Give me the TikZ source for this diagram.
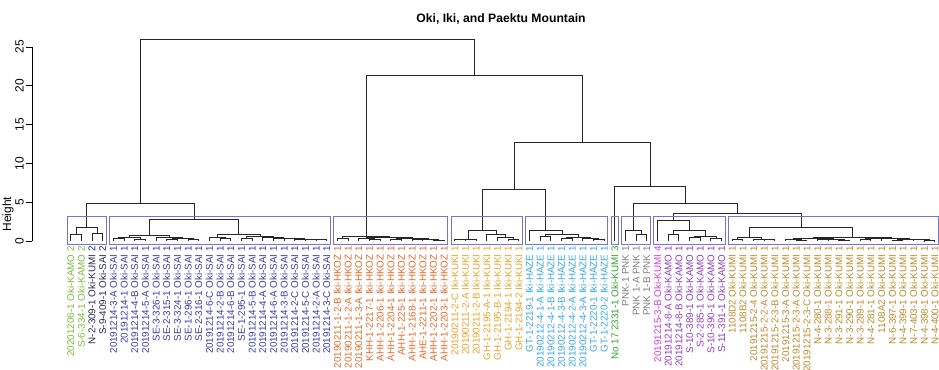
\documentclass[tikz,border=0pt]{standalone}
\usepackage{fontspec}
\setmainfont{Liberation Sans}
\makeatletter
\newcommand\setnd[3]{\expandafter\xdef\csname ndx@#1\endcsname{#2}\expandafter\xdef\csname ndh@#1\endcsname{#3}}
\newcommand\ndx[1]{\csname ndx@#1\endcsname}
\newcommand\ndh[1]{\csname ndh@#1\endcsname}
\makeatother
\newcommand\mg[4]{%
  \pgfmathsetmacro\mgx{(\ndx{#2}+\ndx{#3})/2}%
  \setnd{#1}{\mgx}{#4}%
  \draw[tree] ({59.96+10.67*\ndx{#2}},{241-7.76*\ndh{#2}}) -- ({59.96+10.67*\ndx{#2}},{241-7.76*#4}) -- ({59.96+10.67*\ndx{#3}},{241-7.76*#4}) -- ({59.96+10.67*\ndx{#3}},{241-7.76*\ndh{#3}});%
}
\definecolor{cKAMOb}{HTML}{7CBA3C}
\definecolor{cDark}{HTML}{2A2A4E}
\definecolor{cSAI}{HTML}{3B3BA3}
\definecolor{cHKOZ}{HTML}{DD6B2A}
\definecolor{cKUKI}{HTML}{E6A328}
\definecolor{cHAZE}{HTML}{3AA7DD}
\definecolor{cNo}{HTML}{33A02C}
\definecolor{cPNK}{HTML}{7F7F7F}
\definecolor{cKUMId}{HTML}{D63BD6}
\definecolor{cKAMOa}{HTML}{8E3FB6}
\definecolor{cKUMIa}{HTML}{B98A2C}
\definecolor{cBox}{HTML}{7676C8}
\begin{document}
\begin{tikzpicture}[x=0.3mm,y=-0.3mm,
  tree/.style={draw=black!85,line width=0.26mm},
  clbox/.style={draw=cBox,line width=0.3mm},
  lbl/.style={font=\fontsize{8.4}{9}\selectfont,inner sep=0pt,anchor=east,rotate=90},
  axlbl/.style={font=\fontsize{10.2}{11}\selectfont,rotate=90,inner sep=1.5pt},
  axline/.style={draw=black,line width=0.26mm}]
\useasboundingbox (0,0) rectangle (939,370);
% title and axis
\node[font=\bfseries\fontsize{10.4}{11}\selectfont] (title) at (501,19) {Oki, Iki, and Paektu Mountain};
\node[axlbl] (ylab) at (8,214) {Height};
\draw[axline] (32,241) -- (32,47);
\foreach \v in {0,5,...,25}{
  \draw[axline] (32,{241-7.76*\v}) -- (26,{241-7.76*\v}) node[axlbl,anchor=south] (tick\v) {\v};
}
% leaves
\foreach \i in {1,...,82}{\setnd{L\i}{\i}{0}}
% group 1
\mg{a1}{L1}{L2}{0.8}
\mg{a2}{L3}{L4}{1.0}
\mg{G1}{a1}{a2}{1.8}
% group 2
\mg{p1}{L5}{L6}{0.3}
\mg{p2}{L7}{L8}{0.25}
\mg{P}{p1}{p2}{0.45}
\mg{q1}{L10}{L11}{0.15}
\mg{q2}{L12}{L13}{0.2}
\mg{q3}{q1}{q2}{0.3}
\mg{Q}{L9}{q3}{0.5}
\mg{S1}{P}{Q}{0.7}
\mg{r1}{L15}{L16}{0.3}
\mg{r2}{L14}{r1}{0.5}
\mg{r3}{L17}{L18}{0.3}
\mg{c1}{L24}{L25}{0.15}
\mg{c2}{L23}{c1}{0.2}
\mg{c3}{L22}{c2}{0.25}
\mg{c4}{L21}{c3}{0.3}
\mg{c5}{L20}{c4}{0.35}
\mg{c6}{L19}{c5}{0.4}
\mg{r4}{r3}{c6}{0.55}
\mg{S2}{r2}{r4}{0.9}
\mg{G2}{S1}{S2}{2.8}
\mg{G12}{G1}{G2}{4.9}
% HKOZ
\mg{h1}{L26}{L27}{0.3}
\mg{h2}{L29}{L30}{0.15}
\mg{h3}{L28}{h2}{0.3}
\mg{h4}{L31}{L32}{0.15}
\mg{h5}{L33}{L34}{0.2}
\mg{h6}{L35}{L36}{0.1}
\mg{h7}{h5}{h6}{0.25}
\mg{h8}{h4}{h7}{0.3}
\mg{h9}{h3}{h8}{0.45}
\mg{HK}{h1}{h9}{0.6}
% KUKI
\mg{k1}{L37}{L38}{0.15}
\mg{k2}{k1}{L39}{0.2}
\mg{k3}{L42}{L43}{0.2}
\mg{k4}{L41}{k3}{0.4}
\mg{k5}{L40}{k4}{0.8}
\mg{KU}{k2}{k5}{1.3}
% HAZE
\mg{z1}{L45}{L46}{0.6}
\mg{z2}{L47}{L48}{0.3}
\mg{z3}{L50}{L51}{0.2}
\mg{z4}{L49}{z3}{0.35}
\mg{z5}{z2}{z4}{0.5}
\mg{z6}{z1}{z5}{0.9}
\mg{HZ}{L44}{z6}{1.4}
\mg{KH}{KU}{HZ}{6.7}
% PNK
\mg{n1}{L54}{L55}{0.8}
\mg{PN}{L53}{n1}{1.3}
% KAMO
\mg{m1}{L57}{L58}{0.9}
\mg{m2}{L59}{L60}{0.5}
\mg{m3}{L61}{L62}{0.3}
\mg{m4}{m2}{m3}{0.6}
\mg{m5}{m1}{m4}{1.4}
\mg{KA}{L56}{m5}{2.7}
% KUMI 1
\mg{u1}{L63}{L64}{0.2}
\mg{u2}{L66}{L67}{0.15}
\mg{u3}{L65}{u2}{0.25}
\mg{u4}{u1}{u3}{0.4}
\mg{v1}{L69}{L70}{0.1}
\mg{v2}{L68}{v1}{0.2}
\mg{v3}{L71}{L72}{0.15}
\mg{v4}{L73}{L74}{0.1}
\mg{v5}{v3}{v4}{0.25}
\mg{VA}{v2}{v5}{0.3}
\mg{w1}{L75}{L76}{0.2}
\mg{w2}{w1}{L77}{0.3}
\mg{w3}{L78}{L79}{0.1}
\mg{w4}{L81}{L82}{0.05}
\mg{w5}{L80}{w4}{0.15}
\mg{w6}{w3}{w5}{0.2}
\mg{VB}{w2}{w6}{0.35}
\mg{V}{VA}{VB}{0.4}
\mg{KM}{u4}{V}{1.7}
% upper merges
\mg{KK}{KA}{KM}{3.5}
\mg{PKK}{PN}{KK}{4.8}
\mg{R7}{L52}{PKK}{7.0}
\mg{H12}{KH}{R7}{12.7}
\mg{HR}{HK}{H12}{21.3}
\mg{root}{G12}{HR}{26.0}
% cluster boxes
\foreach \a/\b in {0/4,4/25,25/36,36/43,43/51,51/52,52/55,55/62,62/82}{
  \draw[clbox] ({59.96+10.67*(\a+0.66)},244.5) rectangle ({59.96+10.67*(\b+0.33)},216.6);
}
% labels
\foreach \t/\c [count=\i] in {
20201206-1 Oki-KAMO 2/cKAMOb, S-6-334-1 Oki-KAMO 2/cKAMOb, N-2-309-1 Oki-KUMI 2/cDark, S-9-409-1 Oki-SAI 2/cDark,
20191214-3-A Oki-SAI 1/cSAI, 20191214-1 Oki-SAI 1/cSAI, 20191214-4-B Oki-SAI 1/cSAI, 20191214-5-A Oki-SAI 1/cSAI,
SE-3-326-1 Oki-SAI 1/cSAI, SE-2-315-1 Oki-SAI 1/cSAI, SE-3-324-1 Oki-SAI 1/cSAI, SE-1-296-1 Oki-SAI 1/cSAI,
SE-2-316-1 Oki-SAI 1/cSAI, 20191214-6-C Oki-SAI 1/cSAI, 20191214-2-B Oki-SAI 1/cSAI, 20191214-6-B Oki-SAI 1/cSAI,
SE-1-295-1 Oki-SAI 1/cSAI, 20191214-5-B Oki-SAI 1/cSAI, 20191214-4-A Oki-SAI 1/cSAI, 20191214-6-A Oki-SAI 1/cSAI,
20191214-3-B Oki-SAI 1/cSAI, 20191214-2-C Oki-SAI 1/cSAI, 20191214-5-C Oki-SAI 1/cSAI, 20191214-2-A Oki-SAI 1/cSAI,
20191214-3-C Oki-SAI 1/cSAI,
20190211-1-2-B Iki-HKOZ 1/cHKOZ, 20190211-1-2-A Iki-HKOZ 1/cHKOZ, 20190211-1-3-A Iki-HKOZ 1/cHKOZ,
KHH-1-2217-1 Iki-HKOZ 1/cHKOZ, AHH-1-2206-1 Iki-HKOZ 1/cHKOZ, AHH-1-2204-1 Iki-HKOZ 1/cHKOZ,
AHH-1-225-1 Iki-HKOZ 1/cHKOZ, AHH-1-2168-1 Iki-HKOZ 1/cHKOZ, AHE-1-2211-1 Iki-HKOZ 1/cHKOZ,
AHH-1-2202-1 Iki-HKOZ 1/cHKOZ, AHH-1-2203-1 Iki-HKOZ 1/cHKOZ,
20190211-2-C Iki-KUKI 1/cKUKI, 20190211-2-A Iki-KUKI 1/cKUKI, 20190211-2-B Iki-KUKI 1/cKUKI,
GH-1-2195-A-1 Iki-KUKI 1/cKUKI, GH-1-2195-B-1 Iki-KUKI 1/cKUKI, GH-1-2194-1 Iki-KUKI 1/cKUKI,
GH-1-2194-2 Iki-KUKI 1/cKUKI,
GT-1-2219-1 Iki-HAZE 1/cHAZE, 20190212-4-1-A Iki-HAZE 1/cHAZE, 20190212-4-1-B Iki-HAZE 1/cHAZE,
20190212-4-3-B Iki-HAZE 1/cHAZE, 20190212-4-2-A Iki-HAZE 1/cHAZE, 20190212-4-3-A Iki-HAZE 1/cHAZE,
GT-1-2220-1 Iki-HAZE 1/cHAZE, GT-1-2220-2 Iki-HAZE 1/cHAZE,
No 17 2331-1 Oki-KUMI 3/cNo,
PNK-1 PNK 1/cPNK, PNK 1-A PNK 1/cPNK, PNK 1-B PNK 1/cPNK,
20191215-3-B Oki-KUMI 4/cKUMId, 20191214-8-A Oki-KAMO 1/cKAMOa, 20191214-8-B Oki-KAMO 1/cKAMOa,
S-10-389-1 Oki-KAMO 1/cKAMOa, S-2-285-1 Oki-KAMO 1/cKAMOa, S-10-390-1 Oki-KAMO 1/cKAMOa,
S-11-391-1 Oki-KAMO 1/cKAMOa,
1108D2 Oki-KUMI 1/cKUMIa, 1108B2 Oki-KUMI 1/cKUMIa, 20191215-2-4 Oki-KUMI 1/cKUMIa,
20191215-2-2-A Oki-KUMI 1/cKUMIa, 20191215-2-3-B Oki-KUMI 1/cKUMIa, 20191215-3-A Oki-KUMI 1/cKUMIa,
20191215-2-3-A Oki-KUMI 1/cKUMIa, 20191215-2-3-C Oki-KUMI 1/cKUMIa, N-4-280-1 Oki-KUMI 1/cKUMIa,
N-3-288-1 Oki-KUMI 1/cKUMIa, N-3-291-1 Oki-KUMI 1/cKUMIa, N-3-290-1 Oki-KUMI 1/cKUMIa,
N-3-289-1 Oki-KUMI 1/cKUMIa, N-4-281-1 Oki-KUMI 1/cKUMIa, 1108A2 Oki-KUMI 1/cKUMIa,
N-6-397-1 Oki-KUMI 1/cKUMIa, N-4-399-1 Oki-KUMI 1/cKUMIa, N-7-403-1 Oki-KUMI 1/cKUMIa,
N-4-398-1 Oki-KUMI 1/cKUMIa, N-4-400-1 Oki-KUMI 1/cKUMIa}{
  \node[lbl,text=\c] (t\i) at ({59.96+10.67*\i},246) {\t};
}
\end{tikzpicture}
\end{document}
